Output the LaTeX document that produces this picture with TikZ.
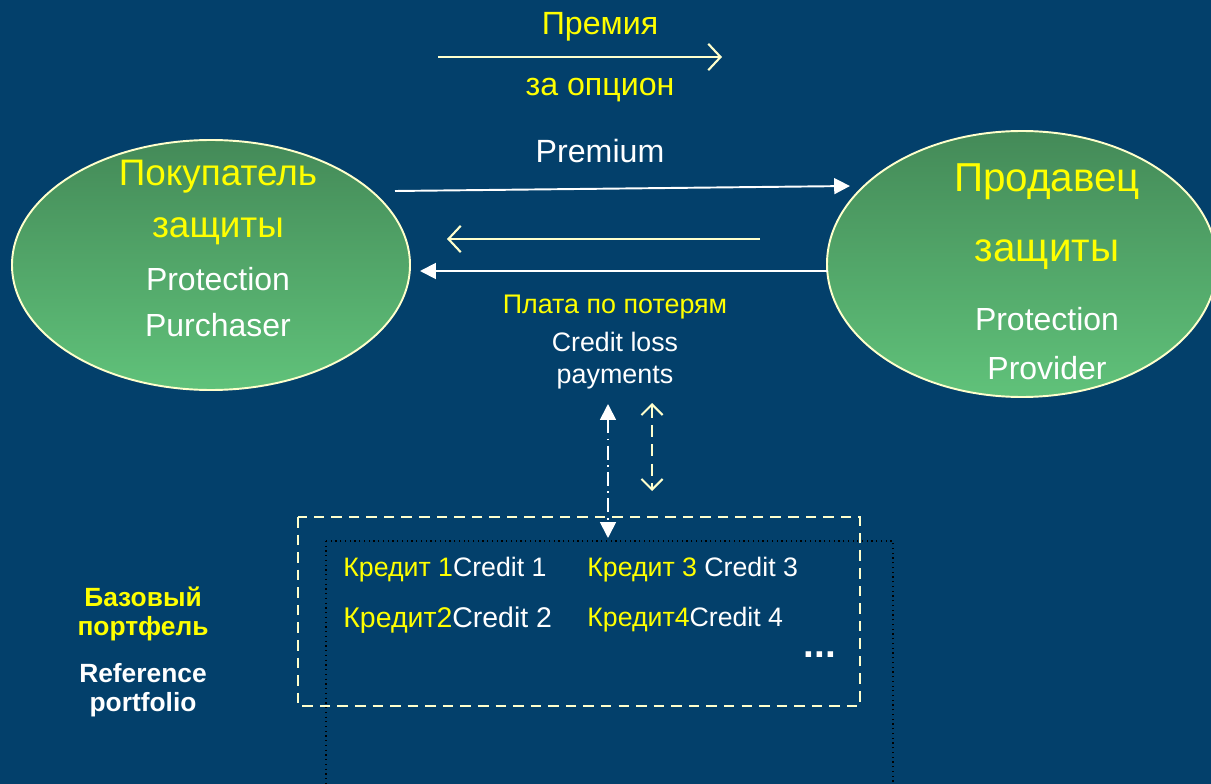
\documentclass[tikz,border=0pt]{standalone}
\usepackage{fontspec}
\setmainfont{Liberation Sans}
\usetikzlibrary{arrows.meta}
\usetikzlibrary{shapes.geometric}

\definecolor{bgblue}{RGB}{3,64,107}
\definecolor{cream}{RGB}{255,255,204}
\definecolor{ylw}{RGB}{255,255,0}
\definecolor{grtop}{RGB}{68,138,88}
\definecolor{grbot}{RGB}{96,194,122}

\newcommand{\fsz}[1]{\fontsize{#1}{1.08\dimexpr#1pt\relax}\selectfont}

\begin{document}
\begin{tikzpicture}[x=0.02cm,y=-0.02cm,
    party/.style={ellipse, draw=cream, line width=1.1pt, top color=grtop, bottom color=grbot, inner sep=0pt},
    rutext/.style={text=ylw, inner sep=0pt},
    entext/.style={text=white, inner sep=0pt},
    openarr/.style={cream, line width=1.2pt, -{Straight Barb[length=7pt,width=15pt]}},
    whitearr/.style={white, line width=1.1pt, -{Triangle[length=9pt,width=9pt]}}]

    % background
    \clip (0,0) rectangle (1211,784);
    \fill[bgblue] (0,0) rectangle (1211,784);

    % the two parties
    \node[party, minimum width=398*0.02cm, minimum height=250*0.02cm] (buyer) at (211,265) {};
    \node[party, minimum width=390*0.02cm, minimum height=266*0.02cm] (seller) at (1022,264) {};

    \node[rutext, font=\fsz{21}] (buyer1) at (218,177) {Покупатель};
    \node[rutext, font=\fsz{21}] (buyer2) at (218,231) {защиты};
    \node[entext, font=\fsz{18.2}] (buyer3) at (218,279) {Protection};
    \node[entext, font=\fsz{18.2}] (buyer4) at (218,325) {Purchaser};

    \node[rutext, font=\fsz{23}] (seller1) at (1047,182) {Продавец};
    \node[rutext, font=\fsz{23}] (seller2) at (1047,255) {защиты};
    \node[entext, font=\fsz{18.2}] (seller3) at (1047,319) {Protection};
    \node[entext, font=\fsz{18.2}] (seller4) at (1047,368) {Provider};

    % premium
    \node[rutext, font=\fsz{18.3}] (prem1) at (600,27) {Премия};
    \node[rutext, font=\fsz{18.3}] (prem2) at (600,90) {за опцион};
    \node[entext, font=\fsz{18.3}] (prem3) at (600,151) {Premium};

    \coordinate (p1s) at (438,57);
    \coordinate (p1e) at (722,57);
    \coordinate (p2s) at (395,191);
    \coordinate (p2e) at (850,186);
    \coordinate (l1s) at (760,239);
    \coordinate (l1e) at (447,239);
    \coordinate (l2s) at (828,271);
    \coordinate (l2e) at (420,271);

    \draw[openarr] (p1s) -- (p1e);
    \draw[whitearr] (p2s) -- (p2e);
    \draw[openarr] (l1s) -- (l1e);
    \draw[whitearr] (l2s) -- (l2e);

    % loss payments
    \node[rutext, font=\fsz{15.3}] (loss1) at (615,307) {Плата по потерям};
    \node[entext, font=\fsz{15.2}] (loss2) at (615,342) {Credit loss};
    \node[entext, font=\fsz{15.3}] (loss3) at (615,378) {payments};

    % portfolio boxes
    \draw[black, dotted, line width=0.7pt] (326,541) rectangle (893,800);
    \draw[cream, line width=1.4pt, dash pattern=on 6pt off 4pt] (298,517) rectangle (860,706);

    \coordinate (v1t) at (608,404);
    \coordinate (v1b) at (608,538);
    \coordinate (v2t) at (652,403);
    \coordinate (v2b) at (652,491);
    \draw[white, line width=1pt, dash pattern=on 8pt off 3pt on 1pt off 3pt,
          {Triangle[length=9pt,width=9pt]}-{Triangle[length=9pt,width=9pt]}] (v1t) -- (v1b);
    \draw[cream, line width=1.2pt, dash pattern=on 7pt off 4pt,
          {Straight Barb[length=6pt,width=12pt]}-{Straight Barb[length=6pt,width=12pt]}] (v2t) -- (v2b);

    \node[entext, anchor=west, font=\fsz{15.2}] (cr1) at (343,570) {{\color{ylw}Кредит 1}Credit 1};
    \node[entext, anchor=west, font=\fsz{15.2}] (cr3) at (587,570) {{\color{ylw}Кредит 3} Credit 3};
    \node[entext, anchor=west, font=\fsz{16.2}] (cr2) at (343,620) {{\color{ylw}Кредит2}Credit 2};
    \node[entext, anchor=west, font=\fsz{15.2}] (cr4) at (587,620) {{\color{ylw}Кредит4}Credit 4};
    \node[entext, font=\bfseries\fsz{22}] (more) at (820,655) {...};

    \node[rutext, font=\bfseries\fsz{15}, align=center] (base) at (143,614) {Базовый\\портфель};
    \node[entext, font=\bfseries\fsz{15}, align=center] (ref) at (143,690) {Reference\\portfolio};
\end{tikzpicture}
\end{document}
